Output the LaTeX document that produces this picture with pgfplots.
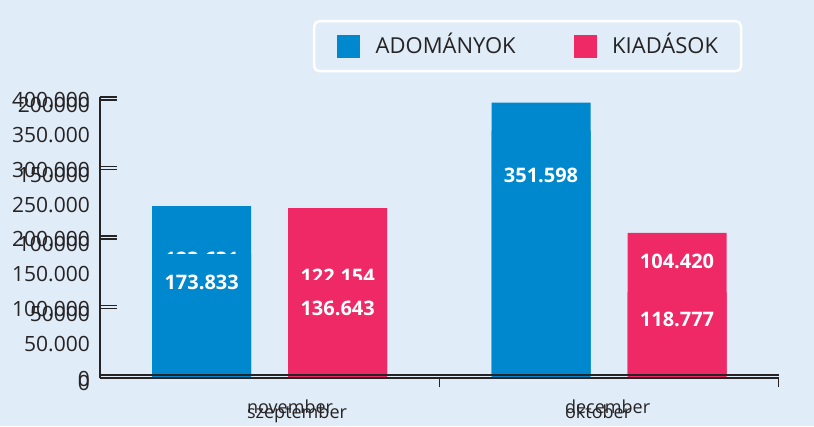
\documentclass[border=0pt]{standalone}
\usepackage{pgfplots}
\pgfplotsset{compat=1.18}
\usepackage{pgfplotstable}
\usepackage{fontspec}
\setmainfont{Open Sans}
\definecolor{bg}{HTML}{E0ECF8}
\definecolor{cblue}{HTML}{0088CE}
\definecolor{cred}{HTML}{EE2966}
\definecolor{ctext}{HTML}{262324}

\pgfplotstableread{
x y off lab
0 173833 28.3 173.833
1 351598 44.4 351.598
}\Ablue
\pgfplotstableread{
x y off lab
0 136643 28.3 136.643
1 118777 27.0 118.777
}\Ared
\pgfplotstableread{
x y off lab
0 123631 53.5 123.631
1 198060 60.0 198.060
}\Bblue
\pgfplotstableread{
x y off lab
0 122154 68.6 122.154
1 104420 28.4 104.420
}\Bred

\pgfplotsset{
 base/.style={
  scale only axis, width=678.7pt, height=278pt, anchor=south west,
  xmin=-0.5, xmax=1.5, ymin=0,
  axis lines*=left, axis line style={ctext, line width=1.3pt},
  tick align=inside, tick style={ctext, line width=1.3pt},
  major tick length=17pt,
  ybar=37pt, bar width=99pt,
  scaled y ticks=false,
  yticklabel style={anchor=east, inner sep=0pt, xshift=-10pt, text=ctext, font=\fontsize{21}{25}\selectfont},
  xticklabel style={anchor=base west, inner sep=0pt, text=ctext, font=\fontsize{18}{22}\selectfont},
  major x tick style={draw=none},
  point meta=explicit symbolic,
  nodes near coords,
  visualization depends on={\thisrow{off} \as \off},
  every node near coord/.append style={anchor=center, yshift=-\off pt, text=white, inner sep=0pt, font=\bfseries\fontsize{20}{24}\selectfont},
  clip=false, axis on top,
 }
}

\begin{document}
\begin{tikzpicture}
\fill[bg] (0,0) rectangle (814pt,426pt);
% second chart (behind)
\begin{axis}[base, at={(100pt,48pt)}, ymax=200000,
  ytick={0,50000,...,200000}, yticklabels={0,50000,100000,150000,200000},
  yticklabel style={yshift=-5pt},
  xtick={-0.067,0.870}, xticklabels={november,december},
  xticklabel style={yshift=-18pt},
  minor xtick={0.5,1.5}, minor tick length=9pt]
\addplot[fill=cblue, draw=none] table[x=x, y=y, meta=lab] {\Bblue};
\addplot[fill=cred, draw=none] table[x=x, y=y, meta=lab] {\Bred};
\end{axis}
% first chart (front)
\begin{axis}[base, at={(100pt,51pt)}, ymax=400000,
  ytick={0,50000,...,400000},
  yticklabels={0,50.000,100.000,150.000,200.000,250.000,300.000,350.000,400.000},
  major y tick style={draw=none},
  minor ytick={0,100000,...,400000}, minor tick length=17pt,
  yticklabel style={yshift=-3.5pt},
  xtick={-0.067,0.870}, xticklabels={szeptember,oktober},
  xticklabel style={yshift=-26pt},
  legend columns=2,
  legend image code/.code={\path[#1, draw=none, sharp corners] (0pt,-11.5pt) rectangle (23pt,11.5pt);},
  legend style={at={(0.3138,1.277)}, anchor=north west, draw=white, line width=2.5pt,
    rounded corners=5pt, fill=none, inner xsep=23pt, inner ysep=13.5pt,
    font=\fontsize{22}{26}\selectfont, text=ctext,
    nodes={inner sep=0pt, text height=0.714em, text depth=0pt, yshift=-4pt},
    /tikz/every odd column/.append style={column sep=15.5pt},
    /tikz/every even column/.append style={column sep=58pt}},
  legend entries={ADOMÁNYOK,KIADÁSOK}]
\addplot[fill=cblue, draw=none] table[x=x, y=y, meta=lab] {\Ablue};
\addplot[fill=cred, draw=none] table[x=x, y=y, meta=lab] {\Ared};
\end{axis}
\pgfresetboundingbox
\path[use as bounding box] (0,0) rectangle (814pt,426pt);
\end{tikzpicture}
\end{document}
